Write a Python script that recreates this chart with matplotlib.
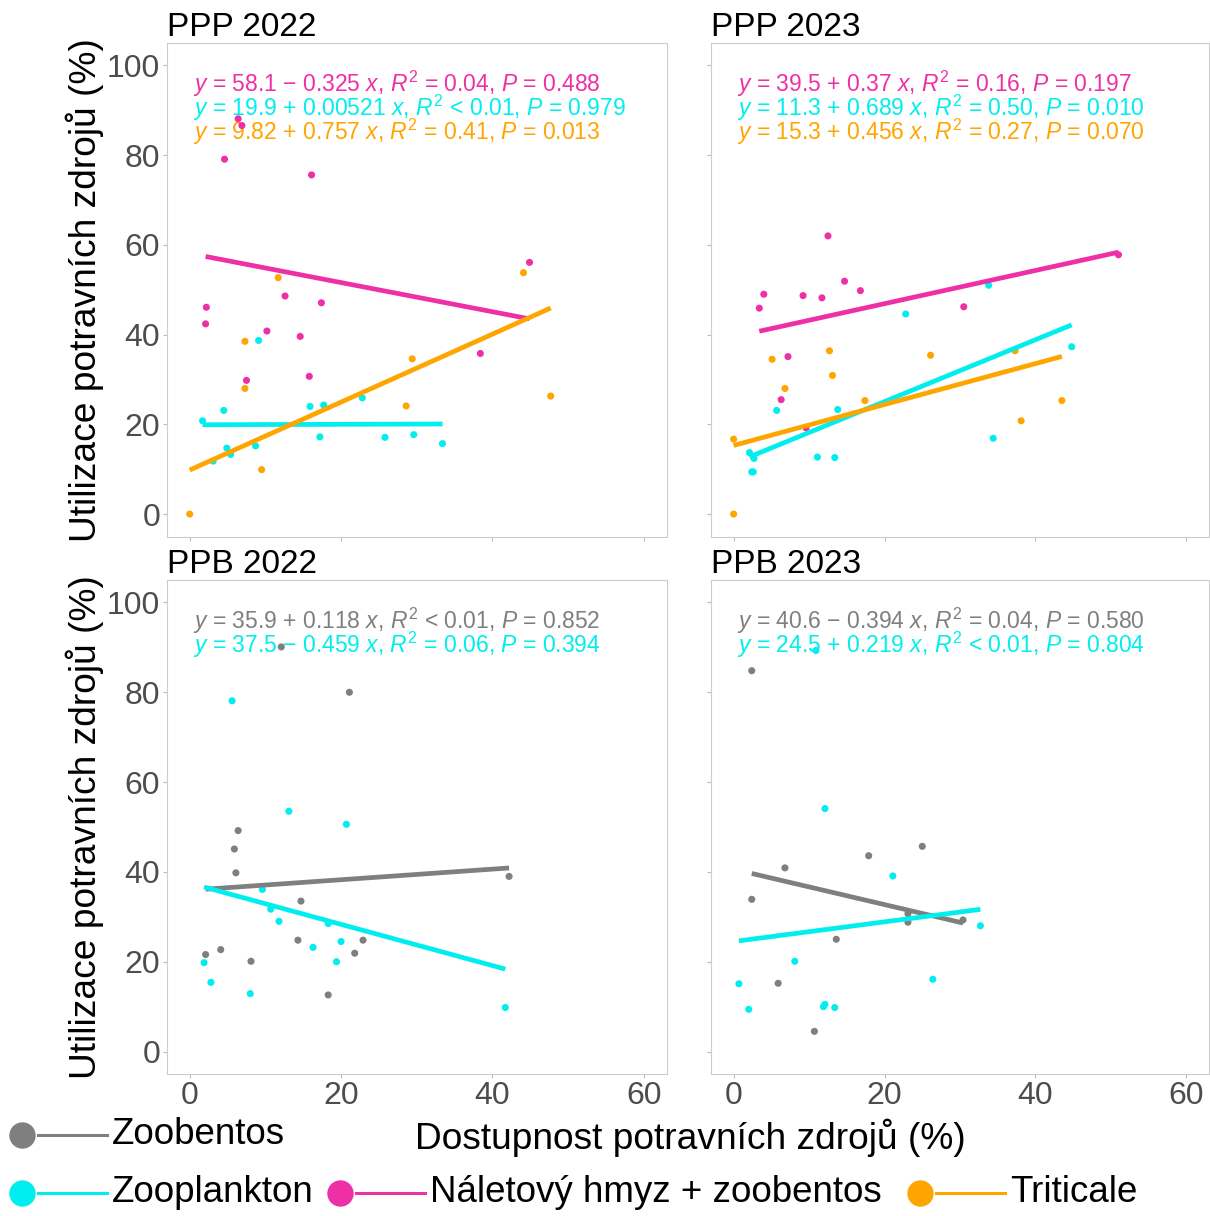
import numpy as np
import matplotlib.pyplot as plt

plt.rcParams['font.family'] = ['Liberation Sans', 'DejaVu Sans']
plt.rcParams['mathtext.fontset'] = 'custom'
plt.rcParams['mathtext.rm'] = 'Liberation Sans'
plt.rcParams['mathtext.it'] = 'Liberation Sans:italic'

# barvy skupin
skupiny = ['Zoobentos', 'Zooplankton', 'Náletový hmyz + zoobentos', 'Triticale']
barvy = ['#7F7F7F', '#00EEEE', '#EE30A7', '#FFA500']

# PPP 2022
ppp22_hmyz_x = [6.4, 6.9, 4.6, 16.1, 44.9, 2.2, 2.1, 12.6, 17.4, 10.2, 14.6, 38.4, 7.5, 15.8]
ppp22_hmyz_y = [88.1, 86.6, 79.1, 75.6, 56.1, 46.1, 42.4, 48.6, 47.1, 40.8, 39.6, 35.8, 29.8, 30.7]
ppp22_plankton_x = [1.7, 4.5, 9.1, 3.1, 4.9, 5.4, 8.7, 15.9, 17.7, 22.8, 17.2, 25.8, 29.6, 33.4]
ppp22_plankton_y = [20.8, 23.1, 38.7, 11.8, 14.7, 13.3, 15.2, 24.0, 24.3, 25.9, 17.2, 17.1, 17.7, 15.7]
ppp22_triticale_x = [11.7, 44.1, 7.3, 7.3, 29.4, 28.6, 47.7, 9.5, 0.0]
ppp22_triticale_y = [52.7, 53.8, 38.5, 28.0, 34.6, 24.1, 26.3, 9.9, 0.0]

# PPP 2023
ppp23_hmyz_x = [12.5, 14.7, 16.8, 4.0, 9.2, 11.7, 3.4, 30.5, 51.0, 7.2, 6.3, 9.6]
ppp23_hmyz_y = [62.0, 51.9, 49.8, 49.0, 48.7, 48.2, 45.9, 46.2, 57.8, 35.1, 25.5, 19.2]
ppp23_plankton_x = [33.8, 22.8, 44.8, 5.7, 13.8, 2.1, 2.7, 2.4, 2.6, 11.1, 13.4, 34.4]
ppp23_plankton_y = [51.0, 44.6, 37.3, 23.1, 23.3, 13.7, 12.4, 9.4, 9.4, 12.7, 12.6, 16.9]
ppp23_triticale_x = [0.0, 0.0, 5.1, 12.7, 6.8, 13.1, 26.1, 37.3, 17.4, 38.1, 43.5]
ppp23_triticale_y = [0.0, 16.7, 34.5, 36.4, 28.0, 30.9, 35.4, 36.4, 25.3, 20.8, 25.3]

# PPB 2022
ppb22_bentos_x = [12.1, 21.1, 6.4, 5.9, 6.1, 42.2, 14.7, 14.3, 22.9, 21.8, 4.1, 2.1, 8.1, 18.3]
ppb22_bentos_y = [90.1, 80.0, 49.2, 45.1, 39.8, 39.0, 33.5, 24.8, 24.8, 21.9, 22.7, 21.6, 20.1, 12.6]
ppb22_plankton_x = [5.6, 13.1, 20.7, 9.6, 10.7, 11.8, 18.3, 20.0, 16.3, 19.4, 1.9, 2.8, 8.0, 41.7]
ppb22_plankton_y = [78.1, 53.5, 50.6, 36.1, 31.7, 29.0, 28.5, 24.5, 23.2, 20.0, 19.8, 15.4, 12.9, 9.8]

# PPB 2023
ppb23_bentos_x = [2.4, 6.8, 2.4, 17.9, 25.0, 23.1, 23.1, 30.4, 13.6, 5.9, 10.7]
ppb23_bentos_y = [84.8, 40.9, 33.9, 43.6, 45.7, 30.7, 28.8, 29.3, 25.0, 15.2, 4.5]
ppb23_plankton_x = [10.9, 12.1, 21.1, 32.7, 8.1, 0.7, 2.0, 12.1, 11.9, 13.4, 26.4]
ppb23_plankton_y = [89.3, 54.1, 39.1, 28.0, 20.1, 15.1, 9.4, 10.5, 10.0, 9.8, 16.1]

# regresni rovnice (poradi: hmyz, plankton, triticale / bentos, plankton)
ppp22_b0 = [58.1, 19.9, 9.82]
ppp22_b1 = [-0.325, 0.00521, 0.757]
ppp22_r2 = ['= 0.04', '< 0.01', '= 0.41']
ppp22_p = ['0.488', '0.979', '0.013']
ppp23_b0 = [39.5, 11.3, 15.3]
ppp23_b1 = [0.37, 0.689, 0.456]
ppp23_r2 = ['= 0.16', '= 0.50', '= 0.27']
ppp23_p = ['0.197', '0.010', '0.070']
ppb22_b0 = [35.9, 37.5]
ppb22_b1 = [0.118, -0.459]
ppb22_r2 = ['< 0.01', '= 0.06']
ppb22_p = ['0.852', '0.394']
ppb23_b0 = [40.6, 24.5]
ppb23_b1 = [-0.394, 0.219]
ppb23_r2 = ['= 0.04', '< 0.01']
ppb23_p = ['0.580', '0.804']

panely = [
    ('PPP 2022', [(2, ppp22_hmyz_x, ppp22_hmyz_y), (1, ppp22_plankton_x, ppp22_plankton_y),
                  (3, ppp22_triticale_x, ppp22_triticale_y)], ppp22_b0, ppp22_b1, ppp22_r2, ppp22_p),
    ('PPP 2023', [(2, ppp23_hmyz_x, ppp23_hmyz_y), (1, ppp23_plankton_x, ppp23_plankton_y),
                  (3, ppp23_triticale_x, ppp23_triticale_y)], ppp23_b0, ppp23_b1, ppp23_r2, ppp23_p),
    ('PPB 2022', [(0, ppb22_bentos_x, ppb22_bentos_y), (1, ppb22_plankton_x, ppb22_plankton_y)],
     ppb22_b0, ppb22_b1, ppb22_r2, ppb22_p),
    ('PPB 2023', [(0, ppb23_bentos_x, ppb23_bentos_y), (1, ppb23_plankton_x, ppb23_plankton_y)],
     ppb23_b0, ppb23_b1, ppb23_r2, ppb23_p),
]

W, H = 1210, 1216
fig = plt.figure(figsize=(W / 100, H / 100), dpi=100)


def px_axes(l, t, r, b):
    return fig.add_axes([l / W, 1 - b / H, (r - l) / W, (b - t) / H])


okna = [(167, 43, 666.5, 536.5), (711, 43, 1209, 536.5),
        (167, 580, 666.5, 1074), (711, 580, 1209, 1074)]

for i, (nazev, skup, b0s, b1s, r2s, ps) in enumerate(panely):
    ax = px_axes(*okna[i])
    for gi, x, y in skup:
        ax.scatter(x, y, s=26, color=barvy[gi], edgecolors='none', zorder=2)
    # primky podle rovnic, pres rozsah x dane skupiny
    for (gi, x, y), b0, b1 in zip(skup, b0s, b1s):
        xs = np.array([min(x), max(x)])
        ax.plot(xs, b0 + b1 * xs, color=barvy[gi], lw=3.4, solid_capstyle='butt', zorder=3)
    for j, ((gi, x, y), b0, b1, r2, p) in enumerate(zip(skup, b0s, b1s, r2s, ps)):
        znam = '+' if b1 >= 0 else '\u2212'
        txt = f'$y$ = {b0} {znam} {abs(b1)} $x$, $R^{{\\mathrm{{2}}}}$ {r2}, $P$ = {p}'
        ax.text(0.052, 0.901 - j * 0.049, txt, transform=ax.transAxes, color=barvy[gi],
                fontsize=16.5, va='baseline', ha='left', zorder=1)
    ax.set_xlim(-3, 63)
    ax.set_ylim(-5, 105)
    ax.set_xticks([0, 20, 40, 60])
    ax.set_yticks([0, 20, 40, 60, 80, 100])
    ax.tick_params(colors='#BDBDBD', labelcolor='#4D4D4D', labelsize=23, length=3, width=0.8, pad=2)
    if i < 2:
        ax.tick_params(labelbottom=False)
    if i % 2 == 1:
        ax.tick_params(labelleft=False)
    for s in ax.spines.values():
        s.set_color('#CCCCCC')
        s.set_linewidth(0.8)
    ax.set_title(nazev, loc='left', fontsize=24, pad=4)

# popisky os
for yc in [(43 + 536.5) / 2, (580 + 1074) / 2]:
    fig.text(85 / W, 1 - yc / H, 'Utilizace potravních zdrojů (%)', rotation=90,
             ha='center', va='center', fontsize=26.7)
fig.text(690 / W, 1 - 1138 / H, 'Dostupnost potravních zdrojů (%)', ha='center', va='center', fontsize=26.7)

# legenda
lg = fig.add_axes([0, 0, 1, 1])
lg.set_xlim(0, W)
lg.set_ylim(H, 0)
lg.axis('off')
polohy = [(22, 1135, 0), (22, 1193, 1), (340, 1193, 2), (920, 1193, 3)]
for x0, y0, gi in polohy:
    lg.plot([x0 + 16, x0 + 85], [y0, y0], color=barvy[gi], lw=2.2)
    lg.plot([x0], [y0], 'o', ms=19, color=barvy[gi], mec='none')
    lg.text(x0 + 90, y0, skupiny[gi], fontsize=26.5, va='center', ha='left')

fig.savefig('out.png', dpi=100)
